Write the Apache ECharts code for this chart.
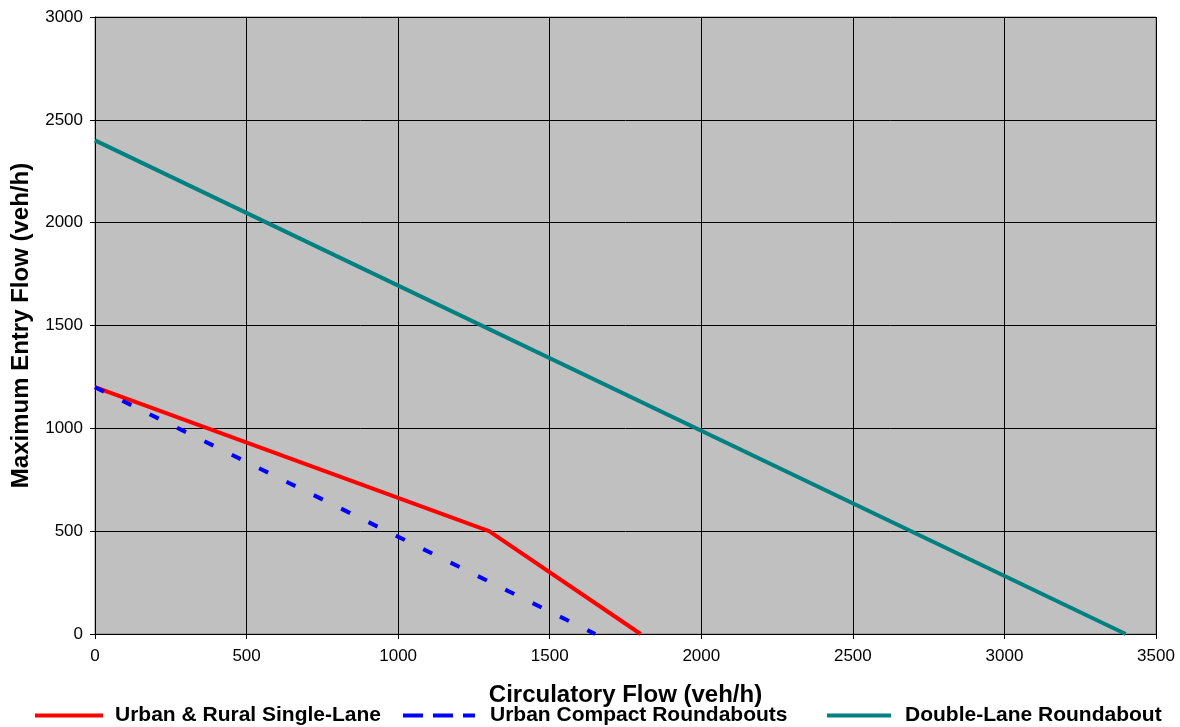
<!DOCTYPE html>
<html>
<head>
<meta charset="utf-8">
<script src="https://cdn.jsdelivr.net/npm/echarts@6/dist/echarts.min.js"></script>
<style>html,body{margin:0;padding:0;background:#fff}#c{width:1180px;height:727px}</style>
</head>
<body>
<div id="c"></div>
<script>
const seriesNames = ['Urban & Rural Single-Lane', 'Urban Compact Roundabouts', 'Double-Lane Roundabout'];
const redX = [0, 1300, 1800];
const redY = [1200, 500, 0];
const blueX = [0, 1650];
const blueY = [1200, 0];
const tealX = [0, 3400];
const tealY = [2400, 0];
const xTitle = 'Circulatory Flow (veh/h)';
const yTitle = 'Maximum Entry Flow (veh/h)';

const pairs = (xs, ys) => xs.map((x, i) => [x, ys[i]]);
const FONT = '"Liberation Sans", Arial, sans-serif';

const chart = echarts.init(document.getElementById('c'), null, {renderer: 'canvas'});
function legendFor(name, left, width, pad, lineType) {
  const lg = {
    orient: 'horizontal', top: 705, left: left, itemWidth: width, itemHeight: 18, padding: 0,
    data: [name],
    itemStyle: {opacity: 0},
    lineStyle: {width: 4},
    textStyle: {fontFamily: FONT, fontWeight: 'bold', fontSize: 21, color: '#000', padding: [0, 0, 0, pad]}
  };
  if (lineType) lg.lineStyle.type = lineType;
  return lg;
}
const axisLabelStyle = {fontFamily: FONT, fontSize: 17, color: '#000', formatter: v => String(v)};
chart.setOption({
  animation: false,
  backgroundColor: '#fff',
  grid: {left: 95, right: 24, top: 17, bottom: 93, show: true, backgroundColor: '#C0C0C0', borderColor: '#808080', borderWidth: 1},
  legend: [
    legendFor(seriesNames[0], 33, 68, 7),
    legendFor(seriesNames[1], 401, 72, 10, [20, 10]),
    legendFor(seriesNames[2], 825, 64, 9)
  ],
  xAxis: {
    type: 'value', min: 0, max: 3500, interval: 500,
    name: xTitle, nameLocation: 'middle', nameGap: 49,
    nameTextStyle: {fontFamily: FONT, fontWeight: 'bold', fontSize: 24, color: '#000'},
    axisLine: {show: true, lineStyle: {color: '#000', width: 1}},
    axisTick: {show: true, length: 5, lineStyle: {color: '#000'}},
    axisLabel: Object.assign({margin: 14}, axisLabelStyle),
    splitLine: {show: true, lineStyle: {color: '#000', width: 1}}
  },
  yAxis: {
    type: 'value', min: 0, max: 3000, interval: 500,
    name: yTitle, nameLocation: 'middle', nameGap: 62,
    nameTextStyle: {fontFamily: FONT, fontWeight: 'bold', fontSize: 24, color: '#000'},
    axisLine: {show: true, lineStyle: {color: '#000', width: 1}},
    axisTick: {show: true, length: 5, lineStyle: {color: '#000'}},
    axisLabel: Object.assign({margin: 12}, axisLabelStyle),
    splitLine: {show: true, lineStyle: {color: '#000', width: 1}}
  },
  series: [
    {name: seriesNames[0], type: 'line', data: pairs(redX, redY), symbol: 'none', color: '#FF0000',
     lineStyle: {color: '#FF0000', width: 4}},
    {name: seriesNames[1], type: 'line', data: pairs(blueX, blueY), symbol: 'none', color: '#0000FF',
     lineStyle: {color: '#0000FF', width: 4, type: [10, 20.5], cap: 'butt'}},
    {name: seriesNames[2], type: 'line', data: pairs(tealX, tealY), symbol: 'none', color: '#008080',
     lineStyle: {color: '#008080', width: 4}}
  ]
});
</script>
</body>
</html>
